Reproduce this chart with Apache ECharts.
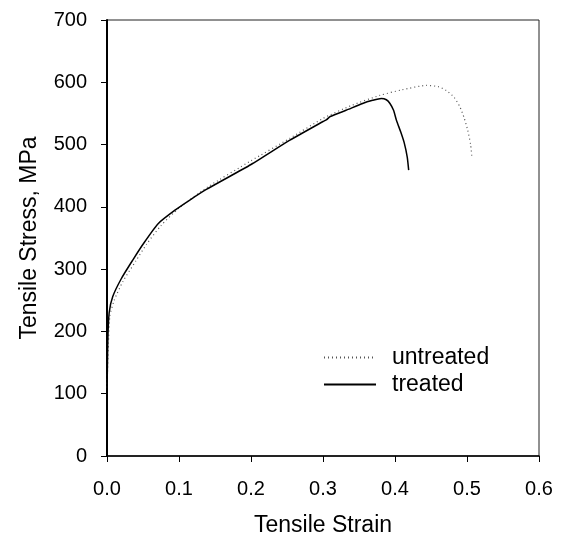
<!DOCTYPE html>
<html>
<head>
<meta charset="utf-8">
<script src="https://cdn.jsdelivr.net/npm/echarts@6/dist/echarts.min.js"></script>
<style>
  html, body { margin: 0; padding: 0; background: #fff; }
  #chart { width: 564px; height: 538px; }
</style>
</head>
<body>
<div id="chart"></div>
<script>
  // values
  const treatedStrain = [0.000, 0.001, 0.003, 0.008, 0.020, 0.036, 0.050, 0.071, 0.096, 0.115, 0.138, 0.200, 0.254, 0.300, 0.305, 0.310, 0.332, 0.355, 0.369, 0.381, 0.388, 0.393, 0.398, 0.402, 0.408, 0.413, 0.417, 0.419]
  const treatedStress = [90, 180, 230, 256, 285, 315, 340, 373, 396, 411, 428, 468, 507, 537, 540, 545, 555, 566, 571, 574, 572, 566, 555, 539, 520, 502, 480, 459]
  const untreatedStrain = [0.000, 0.002, 0.004, 0.010, 0.022, 0.040, 0.055, 0.075, 0.100, 0.140, 0.200, 0.254, 0.300, 0.340, 0.379, 0.410, 0.444, 0.460, 0.471, 0.482, 0.490, 0.496, 0.501, 0.505, 0.507]
  const untreatedStress = [110, 180, 225, 250, 280, 313, 340, 370, 398, 432, 474, 510, 542, 563, 579, 588, 595, 593, 587, 576, 561, 543, 523, 500, 478]

  const pairs = (xs, ys) => xs.map((x, i) => [x, ys[i]])
  const font = 'Liberation Sans, Arial, sans-serif'

  const chart = echarts.init(document.getElementById('chart'))
  const option = {
    animation: false,
    grid: {
      left: 107, right: 25, top: 20, bottom: 82,
      outerBoundsMode: 'none',
      show: true, borderColor: '#222', borderWidth: 1
    },
    legend: {
      orient: 'vertical',
      left: 323,
      top: 346,
      padding: 0,
      itemWidth: 52,
      itemHeight: 14,
      itemGap: 4,
      itemStyle: {opacity: 0},
      textStyle: {fontSize: 23, color: '#000', fontFamily: font, padding: [0, 0, 0, 11]},
      data: ['untreated', 'treated']
    },
    xAxis: {
      type: 'value',
      min: 0, max: 0.6, interval: 0.1,
      name: 'Tensile Strain',
      nameLocation: 'middle',
      nameGap: 58,
      nameTextStyle: {fontSize: 23, color: '#000', fontFamily: font},
      splitLine: {show: false},
      axisLine: {lineStyle: {color: '#000', width: 1.5}},
      axisTick: {inside: false, length: 6, lineStyle: {color: '#000'}},
      axisLabel: {
        fontSize: 20, color: '#000', fontFamily: font, margin: 23,
        formatter: v => v.toFixed(1)
      }
    },
    yAxis: {
      type: 'value',
      min: 0, max: 700, interval: 100,
      name: 'Tensile Stress, MPa',
      nameLocation: 'middle',
      nameGap: 66,
      nameTextStyle: {fontSize: 23, color: '#000', fontFamily: font},
      splitLine: {show: false},
      axisLine: {lineStyle: {color: '#000', width: 2}},
      axisTick: {inside: false, length: 6, lineStyle: {color: '#000'}},
      axisLabel: {fontSize: 20, color: '#000', fontFamily: font, margin: 20}
    },
    series: [
      {
        name: 'untreated',
        type: 'line',
        symbol: 'none',
        smooth: 0.2,
        lineStyle: {color: '#555', width: 1.2, type: [1, 3]},
        itemStyle: {color: '#555'},
        data: pairs(untreatedStrain, untreatedStress)
      },
      {
        name: 'treated',
        type: 'line',
        symbol: 'none',
        smooth: 0.2,
        lineStyle: {color: '#000', width: 1.5},
        itemStyle: {color: '#000'},
        data: pairs(treatedStrain, treatedStress)
      }
    ]
  }
  chart.setOption(option)
</script>
</body>
</html>
